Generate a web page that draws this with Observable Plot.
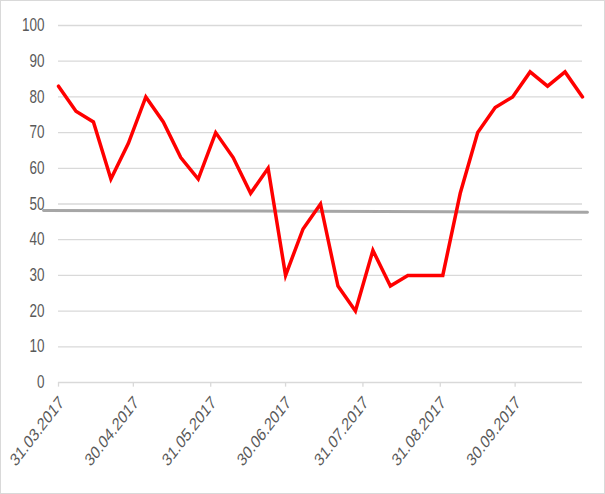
<!DOCTYPE html>
<html>
<head>
<meta charset="utf-8">
<script src="https://cdn.jsdelivr.net/npm/d3@7"></script>
<script src="https://cdn.jsdelivr.net/npm/@observablehq/plot@0.6"></script>
<style>
  html, body { margin: 0; padding: 0; background: #fff; }
  #wrap { position: relative; width: 605px; height: 494px; overflow: hidden; }
  #border { position: absolute; left: 0; top: 0; width: 605px; height: 494px; box-sizing: border-box; border: 1px solid #d9d9d9; pointer-events: none; }
</style>
</head>
<body>
<div id="wrap"><div id="chart"></div><div id="border"></div></div>
<script>
// Weekly observations starting 31.03.2017
const startDate = "2017-03-31";
const values = [83, 76, 73, 57, 67, 80, 73, 63, 57, 70, 63, 53, 60, 30, 43, 50, 27, 20, 37, 27, 30, 30, 30, 53, 70, 77, 80, 87, 83, 87, 80];
// Grey reference line (start/end dates and levels)
const refDates = ["2017-03-25", "2017-10-29"];
const refValues = [48.2, 47.7];
// X tick labels
const tickDates = ["2017-03-31", "2017-04-30", "2017-05-31", "2017-06-30", "2017-07-31", "2017-08-31", "2017-09-30"];
const yTicks = [0, 10, 20, 30, 40, 50, 60, 70, 80, 90, 100];
const xDomainEnd = "2017-10-27";

const start = new Date(startDate + "T00:00:00Z");
const series = values.map((v, i) => ({date: d3.utcDay.offset(start, 7 * i), value: v}));
const ref = refDates.map((d, i) => ({date: new Date(d + "T00:00:00Z"), value: refValues[i]}));
const ticks = tickDates.map(d => new Date(d + "T00:00:00Z"));
const fmt = d3.utcFormat("%d.%m.%Y");

const font = "'Liberation Sans', Arial, sans-serif";
const squeeze = 0.77;

const chart = Plot.plot({
  width: 605,
  height: 494,
  marginLeft: 58,
  marginRight: 23,
  marginTop: 25,
  marginBottom: 112,
  style: {fontFamily: font, fontSize: "17.5px", color: "#595959", background: "#fff", overflow: "visible"},
  x: {type: "utc", domain: [start, new Date(xDomainEnd + "T00:00:00Z")], axis: null},
  y: {domain: [0, 100], axis: null},
  marks: [
    Plot.gridY(yTicks, {stroke: "#d9d9d9", strokeOpacity: 1, strokeWidth: 1.3}),
    Plot.text(yTicks, {x: start, y: d => d, text: d => String(d), textAnchor: "end", dx: -14, fill: "#595959", fontSize: 17.5, rotate: 0.001}),
    Plot.ruleX(ticks, {x: d => d, y1: 0, y2: -1.3, stroke: "#d9d9d9", strokeWidth: 1.3, clip: false}),
    Plot.text(ticks, {x: d => d, y: 0, text: d => fmt(d), rotate: -45, textAnchor: "end", dx: 3, dy: 17, fill: "#595959", fontSize: 18}),
    Plot.line(ref, {x: "date", y: "value", stroke: "#a6a6a6", strokeWidth: 3, clip: false}),
    Plot.line(series, {x: "date", y: "value", stroke: "#ff0000", strokeWidth: 3.5, strokeLinejoin: "miter", strokeMiterlimit: 4})
  ]
});
// Horizontally condense the labels, as in the reference
chart.querySelectorAll("text").forEach(t => {
  const tr = t.getAttribute("transform");
  if (tr && tr.includes("rotate(")) {
    t.setAttribute("transform", tr.replace("rotate(", `scale(${squeeze},1) rotate(`));
  }
});
document.getElementById("chart").appendChild(chart);
</script>
</body>
</html>
